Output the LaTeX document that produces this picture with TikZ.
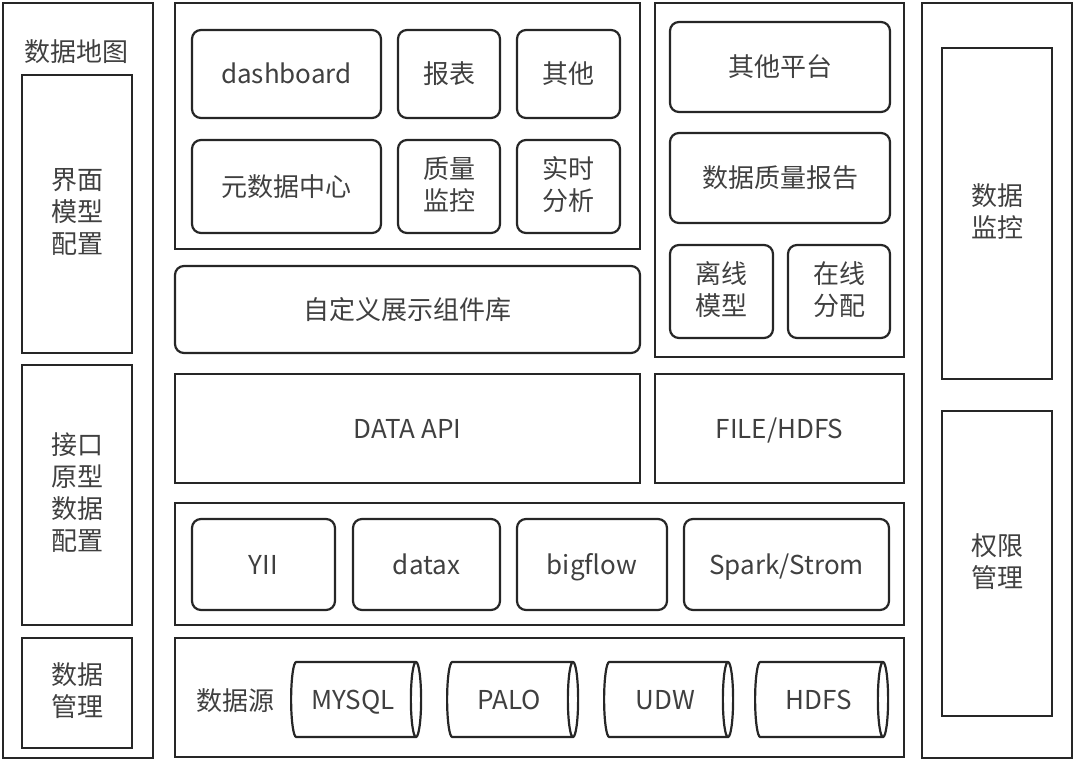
\documentclass[tikz,border=0pt]{standalone}
\usepackage{fontspec}
\setmainfont{Noto Sans CJK SC}
\usetikzlibrary{shapes.geometric}

\newcommand{\lblstrut}{\rule[-6pt]{0pt}{32pt}}

\begin{document}
\begin{tikzpicture}[x=1pt, y=-1pt, line width=2.2pt,
    every node/.style={text=black!75, font=\fontsize{26}{32}\selectfont, align=center, inner sep=0pt,
      execute at begin node=\lblstrut, execute at end node=\lblstrut},
    sz/.style 2 args={minimum width=#1, minimum height=#2},
    frame/.style={draw=black!85},
    rbox/.style={draw=black!85, rounded corners=9pt},
    db/.style={draw=black!85, cylinder, shape aspect=0.32}]
    \useasboundingbox (0,0) rectangle (1076,762);

    % left column
    \node[frame, sz={150}{755}] (mapcol) at (78,380.5) {};
    \node (maplabel) at (76,52) {数据地图};
    \node[frame, sz={110}{278}] (uiconf) at (77,214) {界面\\模型\\配置};
    \node[frame, sz={110}{260}] (apiconf) at (77,495) {接口\\原型\\数据\\配置};
    \node[frame, sz={110}{110}] (datamgr) at (77,693) {数据\\管理};

    % application layer
    \node[frame, sz={465}{246}] (apps) at (407.5,126) {};
    \node[rbox, sz={189}{88}] (dash) at (286.5,74) {dashboard};
    \node[rbox, sz={102}{88}] (report) at (449,74) {报表};
    \node[rbox, sz={103}{88}] (other) at (568.5,74) {其他};
    \node[rbox, sz={189}{93}] (meta) at (286.5,186.5) {元数据中心};
    \node[rbox, sz={102}{93}] (quality) at (449,186.5) {质量\\监控};
    \node[rbox, sz={103}{93}] (realtime) at (568.5,186.5) {实时\\分析};
    \node[rbox, sz={465}{87}] (widgets) at (407.5,309.5) {自定义展示组件库};

    % platforms
    \node[frame, sz={249}{354}] (plats) at (779.5,180) {};
    \node[rbox, sz={220}{90}] (otherplat) at (780,67) {其他平台};
    \node[rbox, sz={220}{90}] (dqreport) at (780,178) {数据质量报告};
    \node[rbox, sz={103}{93}] (offline) at (721.5,291.5) {离线\\模型};
    \node[rbox, sz={102}{93}] (online) at (839,291.5) {在线\\分配};

    % access layer
    \node[frame, sz={465}{109}] (dataapi) at (407.5,428.5) {DATA API};
    \node[frame, sz={249}{109}] (filehdfs) at (779.5,428.5) {FILE/HDFS};

    % engines
    \node[frame, sz={729}{122}] (engines) at (539.5,564) {};
    \node[rbox, sz={143}{91}] (yii) at (263.5,564.5) {YII};
    \node[rbox, sz={147}{91}] (datax) at (426.5,564.5) {datax};
    \node[rbox, sz={150}{91}] (bigflow) at (592,564.5) {bigflow};
    \node[rbox, sz={205}{91}] (spark) at (786.5,564.5) {Spark/Strom};

    % data sources
    \node[frame, sz={729}{119}] (sources) at (539.5,697.5) {};
    \node (srclabel) at (235,700) {数据源};
    \node[db, sz={75}{130}] (mysql) at (353,699.5) {MYSQL};
    \node[db, sz={75}{131}] (palo) at (509.5,699.5) {PALO};
    \node[db, sz={75}{129}] (udw) at (665.5,699.5) {UDW};
    \node[db, sz={75}{133}] (hdfs) at (818.5,699.5) {HDFS};

    % right column
    \node[frame, sz={150}{755}] (ctrlcol) at (997,380.5) {};
    \node[frame, sz={110}{331}] (monitor) at (997,213.5) {数据\\监控};
    \node[frame, sz={110}{305}] (auth) at (997,563.5) {权限\\管理};
\end{tikzpicture}
\end{document}
